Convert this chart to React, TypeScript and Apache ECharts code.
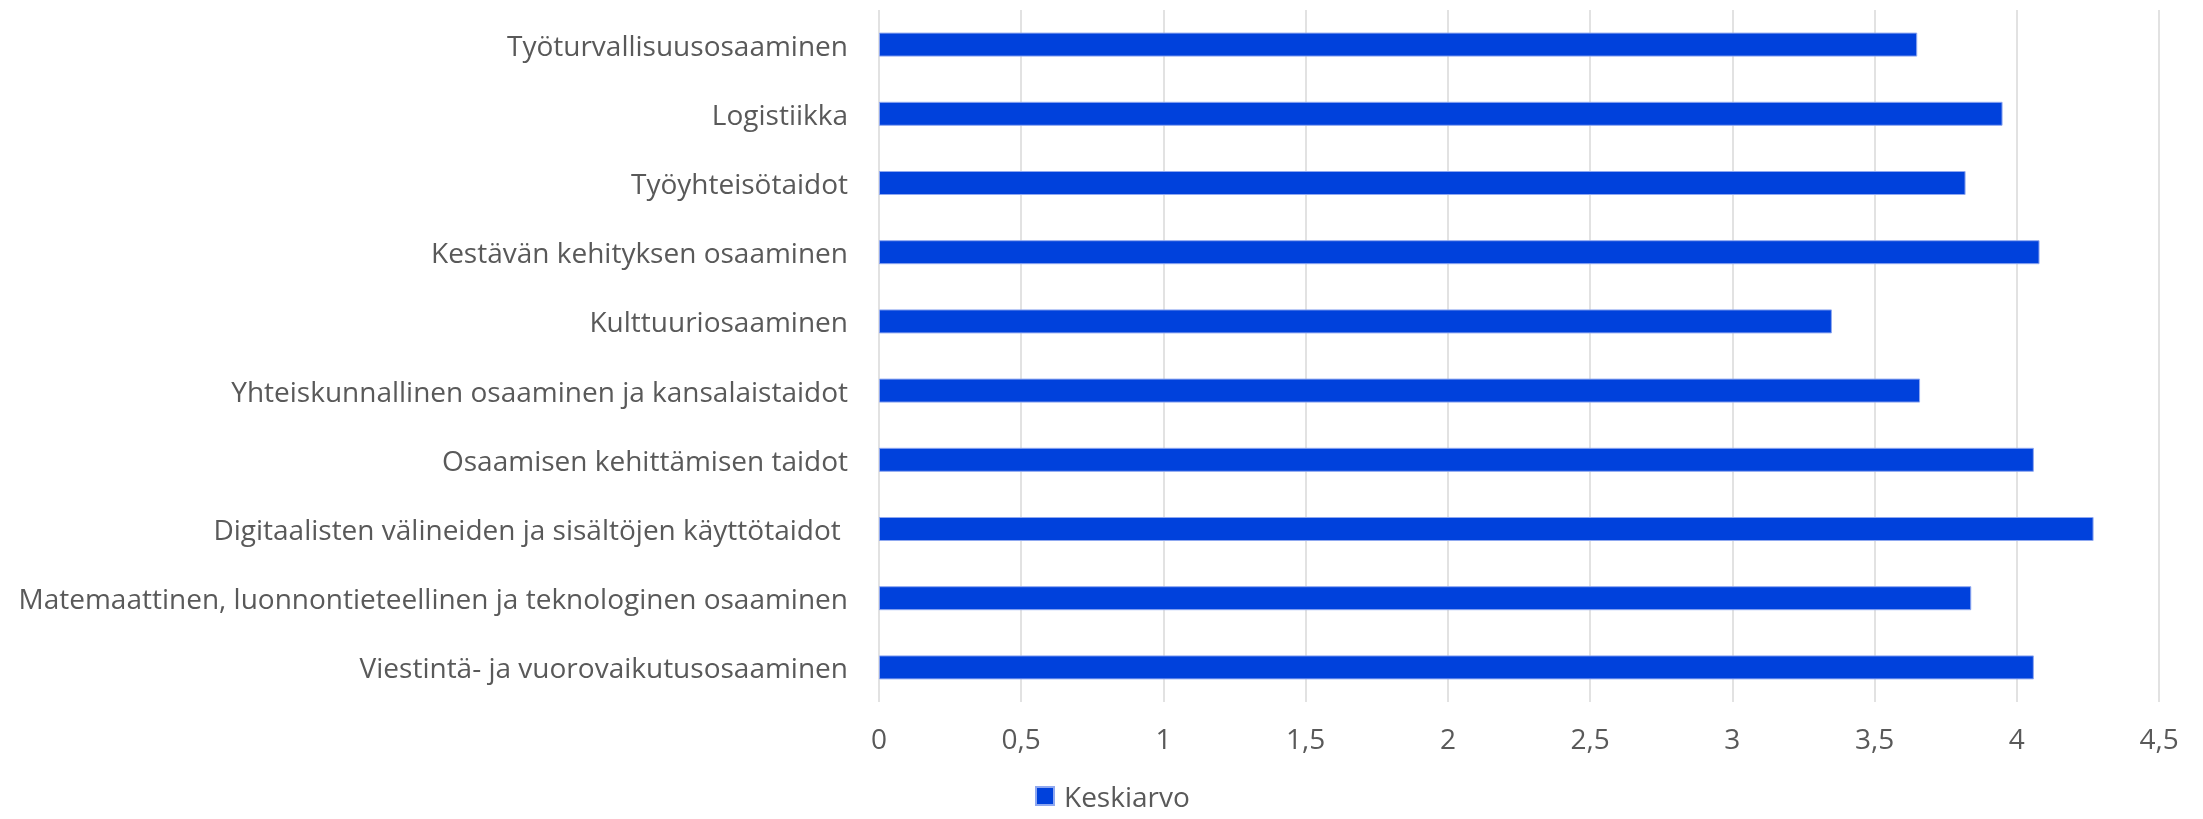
import React, { useEffect, useRef } from "react";
import * as echarts from "echarts";

const categories = [
  "Työturvallisuusosaaminen",
  "Logistiikka",
  "Työyhteisötaidot",
  "Kestävän kehityksen osaaminen",
  "Kulttuuriosaaminen",
  "Yhteiskunnallinen osaaminen ja kansalaistaidot",
  "Osaamisen kehittämisen taidot",
  "Digitaalisten välineiden ja sisältöjen käyttötaidot ",
  "Matemaattinen, luonnontieteellinen ja teknologinen osaaminen",
  "Viestintä- ja vuorovaikutusosaaminen",
];
const keskiarvo = [3.65, 3.95, 3.82, 4.08, 3.35, 3.66, 4.06, 4.27, 3.84, 4.06];
const seriesName = "Keskiarvo";

export default function App() {
  const ref = useRef<HTMLDivElement>(null);
  useEffect(() => {
    document.body.style.margin = "0";
    const chart = echarts.init(ref.current!, null, { renderer: "svg" });
    const font = "'Open Sans', 'Noto Sans', sans-serif";
    chart.setOption({
      animation: false,
      textStyle: { fontFamily: font },
      grid: { left: 879, right: 44, top: 10, bottom: 117, containLabel: false },
      legend: {
        data: [seriesName],
        left: 1035,
        top: 782,
        padding: 0,
        itemWidth: 18,
        itemHeight: 18,
        itemGap: 10,
        icon: "rect",
        textStyle: {
          color: "#595959",
          fontSize: 28,
          lineHeight: 28,
          fontFamily: font,
          padding: [0, 0, 0, 5],
        },
      },
      xAxis: {
        type: "value",
        min: 0,
        max: 4.5,
        interval: 0.5,
        axisLine: { show: false },
        axisTick: { show: false },
        splitLine: { show: true, lineStyle: { color: "#D9D9D9", width: 1.5 } },
        axisLabel: {
          color: "#595959",
          fontSize: 28,
          fontFamily: font,
          margin: 22,
          formatter: (v: number) => String(v).replace(".", ","),
        },
      },
      yAxis: {
        type: "category",
        data: categories,
        inverse: true,
        axisLine: { show: false },
        axisTick: { show: false },
        splitLine: { show: false },
        axisLabel: { color: "#595959", fontSize: 28, fontFamily: font, margin: 31 },
      },
      series: [
        {
          name: seriesName,
          type: "bar",
          data: keskiarvo,
          barWidth: 24,
          itemStyle: { color: "#0041DC", borderColor: "#8FA8F0", borderWidth: 1 },
        },
      ],
    });
    return () => chart.dispose();
  }, []);
  return <div ref={ref} style={{ position: "fixed", left: 0, top: 0, width: 2203, height: 819 }} />;
}
